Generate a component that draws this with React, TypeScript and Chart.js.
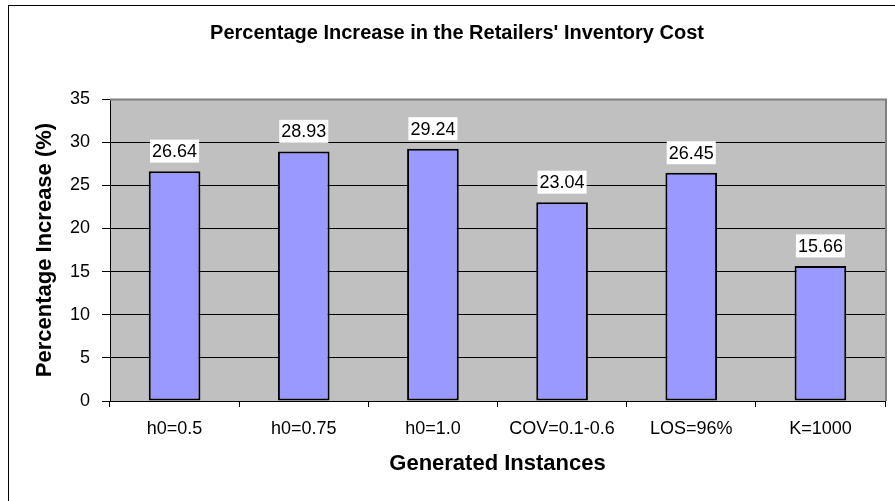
import React, { useEffect, useRef } from "react";
import { Chart, registerables } from "chart.js";

Chart.register(...registerables);

const categories = ["h0=0.5", "h0=0.75", "h0=1.0", "COV=0.1-0.6", "LOS=96%", "K=1000"];
const values = [26.64, 28.93, 29.24, 23.04, 26.45, 15.66];
const yMin = 0;
const yMax = 35;
const yStep = 5;
const chartTitle = "Percentage Increase in the Retailers' Inventory Cost";
const xTitle = "Generated Instances";
const yTitle = "Percentage Increase (%)";

const FONT = '"Liberation Sans", Arial, Helvetica, sans-serif';

const decor = {
  id: "decor",
  beforeDraw(chart: any) {
    const { ctx, chartArea: a } = chart;
    ctx.save();
    ctx.fillStyle = "#ffffff";
    ctx.fillRect(0, 0, chart.width, chart.height);
    ctx.fillStyle = "#C0C0C0";
    ctx.fillRect(a.left, a.top, a.right - a.left, a.bottom - a.top);
    // outer chart frame
    ctx.strokeStyle = "#000000";
    ctx.lineWidth = 1;
    ctx.strokeRect(8.5, 5.5, 898, 520);
    // main title
    ctx.fillStyle = "#000000";
    ctx.font = `bold 20px ${FONT}`;
    ctx.textAlign = "center";
    ctx.textBaseline = "middle";
    ctx.fillText(chartTitle, 457, 33);
    // x title
    ctx.font = `bold 22px ${FONT}`;
    ctx.fillText(xTitle, (a.left + a.right) / 2, 464);
    // y title
    ctx.translate(45, (a.top + a.bottom) / 2);
    ctx.rotate(-Math.PI / 2);
    ctx.font = `bold 22px ${FONT}`;
    ctx.fillText(yTitle, 0, 0);
    ctx.restore();
  },
  afterDatasetsDraw(chart: any) {
    const { ctx } = chart;
    const meta = chart.getDatasetMeta(0);
    ctx.save();
    ctx.font = `18px ${FONT}`;
    ctx.textAlign = "center";
    ctx.textBaseline = "middle";
    meta.data.forEach((bar: any, i: number) => {
      const txt = values[i].toFixed(2);
      const w = ctx.measureText(txt).width + 4;
      const h = 23;
      const cy = bar.y - 20;
      ctx.fillStyle = "#ffffff";
      ctx.fillRect(bar.x - w / 2, cy - h / 2, w, h);
      ctx.fillStyle = "#000000";
      ctx.fillText(txt, bar.x, cy + 1);
    });
    ctx.restore();
  },
  afterDraw(chart: any) {
    const { ctx, chartArea: a } = chart;
    ctx.save();
    ctx.strokeStyle = "#808080";
    ctx.lineWidth = 2;
    ctx.beginPath();
    ctx.moveTo(a.left, a.top + 0.5);
    ctx.lineTo(a.right + 1, a.top + 0.5);
    ctx.lineTo(a.right + 1, a.bottom);
    ctx.stroke();
    ctx.restore();
  },
};

export default function App() {
  const ref = useRef<HTMLCanvasElement>(null);
  useEffect(() => {
    document.body.style.margin = "0";
    const chart = new Chart(ref.current as HTMLCanvasElement, {
      type: "bar",
      data: {
        labels: categories,
        datasets: [
          {
            data: values,
            backgroundColor: "#9999FF",
            borderColor: "#000000",
            borderWidth: 2,
            borderSkipped: false,
            barPercentage: 0.4,
            categoryPercentage: 1,
          },
        ],
      },
      options: {
        responsive: false,
        animation: false,
        layout: { padding: { left: 0, right: 10, top: 99, bottom: 0 } },
        plugins: {
          legend: { display: false },
          tooltip: { enabled: false },
          title: { display: false },
        },
        scales: {
          x: {
            afterFit: (s: any) => {
              s.height = 100;
            },
            grid: {
              offset: true,
              drawOnChartArea: false,
              drawTicks: true,
              tickLength: 6,
              color: "#000000",
              tickColor: "#000000",
            },
            border: { color: "#000000", width: 1 },
            ticks: {
              color: "#000000",
              font: { family: FONT, size: 18 },
              padding: 11,
              maxRotation: 0,
              autoSkip: false,
            },
          },
          y: {
            min: yMin,
            max: yMax,
            afterFit: (s: any) => {
              s.width = 110;
            },
            grid: {
              color: "#000000",
              tickColor: "#000000",
              tickLength: 8,
              lineWidth: 1,
            },
            border: { color: "#000000", width: 1 },
            ticks: {
              stepSize: yStep,
              color: "#000000",
              font: { family: FONT, size: 18 },
              padding: 12,
            },
          },
        },
      },
      plugins: [decor],
    });
    return () => chart.destroy();
  }, []);
  return <canvas ref={ref} width={895} height={501} style={{ display: "block" }} />;
}
